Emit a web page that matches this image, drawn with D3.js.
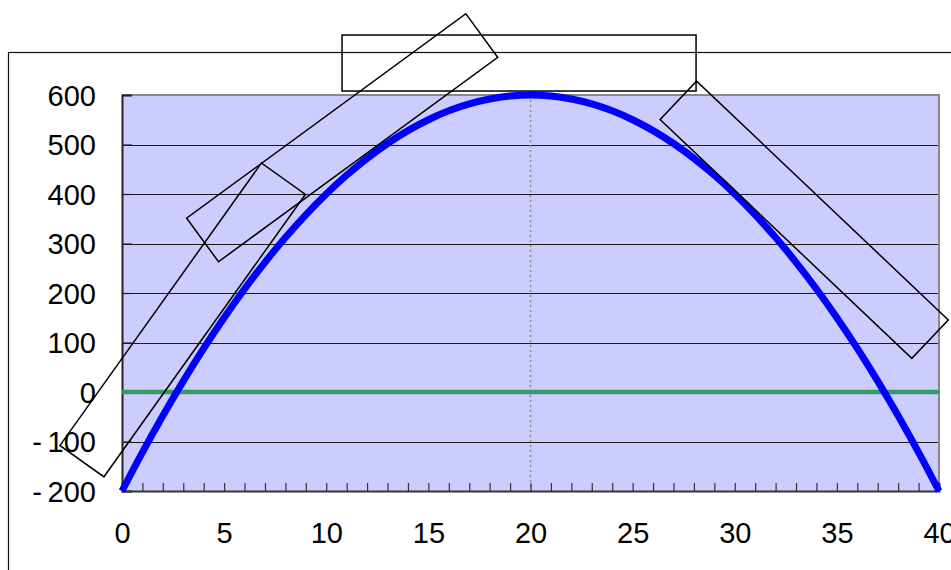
<!DOCTYPE html>
<html>
<head>
<meta charset="utf-8">
<script src="https://cdn.jsdelivr.net/npm/d3@7"></script>
<style>
  html, body { margin: 0; padding: 0; background: #fff; overflow: hidden; }
  svg { display: block; font-family: Arial, "Liberation Sans", sans-serif; }
</style>
</head>
<body>
<svg id="chart" width="951" height="570"></svg>
<script>
// ---- data ----
const xValues = [0,1,2,3,4,5,6,7,8,9,10,11,12,13,14,15,16,17,18,19,20,
                 21,22,23,24,25,26,27,28,29,30,31,32,33,34,35,36,37,38,39,40];
const yValues = [-200,-122,-48,22,88,150,208,262,312,358,400,438,472,502,528,550,568,582,592,598,600,
                 598,592,582,568,550,528,502,472,438,400,358,312,262,208,150,88,22,-48,-122,-200];
const baseX = [0, 40];
const baseY = [0, 0];
const xTicks = [0,5,10,15,20,25,30,35,40];
const yTicks = [-200,-100,0,100,200,300,400,500,600];
const markerX = [20];
// annotation boxes: centre in data units, rotation in degrees
const boxCx = [19.44, 33.40, 10.78, 2.97];
const boxCy = [664.6, 348, 513.6, 145.5];
const boxAngle = [0, 43.5, -36.2, -54.5];

// ---- layout ----
const svg = d3.select("#chart");
const x = d3.scaleLinear().domain([0, 40]).range([122, 939]);
const y = d3.scaleLinear().domain([-200, 600]).range([491, 95]);
const boxW = [354, 347, 346, 347], boxH = [56, 53, 54, 54];

// outer chart frame (extends beyond viewport)
svg.append("rect").attr("x", 8.5).attr("y", 52.5).attr("width", 1100).attr("height", 700)
  .attr("fill", "#fff").attr("stroke", "#111").attr("stroke-width", 1.2);

// plot area
svg.append("rect").attr("x", x(0)).attr("y", y(600)).attr("width", x(40) - x(0)).attr("height", y(-200) - y(600))
  .attr("fill", "#CCCCFF");

// gridlines
svg.append("g").selectAll("line").data(yTicks.filter(v => v > -200 && v < 600)).join("line")
  .attr("x1", x(0)).attr("x2", x(40))
  .attr("y1", d => Math.round(y(d)) + 0.5).attr("y2", d => Math.round(y(d)) + 0.5)
  .attr("stroke", "#1a1a1a").attr("stroke-width", 1);

// plot border top/right (gray)
svg.append("path")
  .attr("d", `M${x(0)},${y(600)}H${x(40)}V${y(-200)}`)
  .attr("fill", "none").attr("stroke", "#888").attr("stroke-width", 2);

// vertical dotted marker
svg.append("g").selectAll("line").data(markerX).join("line")
  .attr("x1", d => x(d)).attr("x2", d => x(d))
  .attr("y1", y(600)).attr("y2", y(-200))
  .attr("stroke", "#888").attr("stroke-width", 1.5).attr("stroke-dasharray", "2,3");

// axes
const yAxis = d3.axisLeft(y).tickValues(yTicks).tickSize(-10).tickPadding(26)
  .tickFormat(d => d < 0 ? "-\u2009" + Math.abs(d) : String(d));
const gy = svg.append("g").attr("transform", `translate(${x(0)},0)`).call(yAxis);
gy.select(".domain").attr("stroke", "#222").attr("stroke-width", 2);
gy.selectAll(".tick line").attr("stroke", "#222").attr("stroke-width", 1.2);
gy.selectAll(".tick text").attr("font-size", 29).attr("fill", "#000")
  .attr("font-family", "Arial, 'Liberation Sans', sans-serif").attr("dy", "0.36em");

const xAxisMinor = d3.axisBottom(x).tickValues(xValues).tickSize(-8).tickFormat("");
const gxm = svg.append("g").attr("transform", `translate(0,${y(-200)})`).call(xAxisMinor);
gxm.select(".domain").attr("stroke", "#333").attr("stroke-width", 2);
gxm.selectAll(".tick line").attr("stroke", "#333").attr("stroke-width", 1.2);

const xAxis = d3.axisBottom(x).tickValues(xTicks).tickSize(0).tickPadding(31);
const gx = svg.append("g").attr("transform", `translate(0,${y(-200)})`).call(xAxis);
gx.select(".domain").remove();
gx.selectAll(".tick text").attr("font-size", 29).attr("fill", "#000")
  .attr("font-family", "Arial, 'Liberation Sans', sans-serif");

// baseline (green)
const baseLine = d3.line().x((d, i) => x(baseX[i])).y(d => y(d));
svg.append("path").datum(baseY).attr("d", baseLine)
  .attr("fill", "none").attr("stroke", "#339966").attr("stroke-width", 4.5);

// curve
const curve = d3.line().x((d, i) => x(xValues[i])).y(d => y(d)).curve(d3.curveCatmullRom);
svg.append("path").datum(yValues).attr("d", curve)
  .attr("fill", "none").attr("stroke", "#0000FF").attr("stroke-width", 7).attr("stroke-linejoin", "round");

// annotation boxes
const boxes = boxCx.map((cx, i) => ({cx, cy: boxCy[i], a: boxAngle[i], w: boxW[i], h: boxH[i]}));
svg.append("g").selectAll("rect").data(boxes).join("rect")
  .attr("transform", d => `translate(${x(d.cx)},${y(d.cy)}) rotate(${d.a})`)
  .attr("x", d => -d.w / 2).attr("y", d => -d.h / 2)
  .attr("width", d => d.w).attr("height", d => d.h)
  .attr("fill", "none").attr("stroke", "#000").attr("stroke-width", 1.5);
</script>
</body>
</html>
